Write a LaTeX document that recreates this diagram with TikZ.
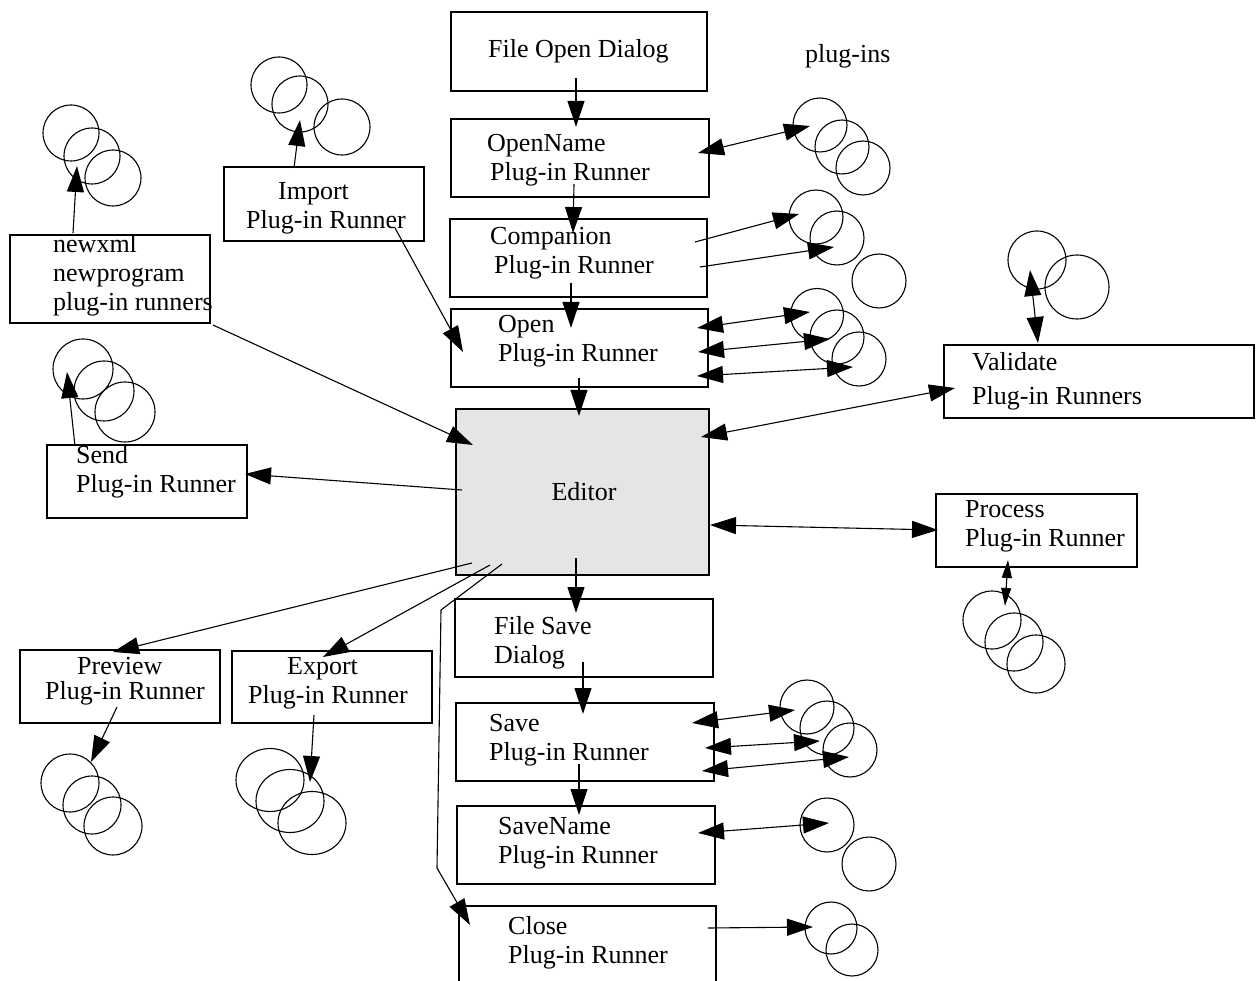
\documentclass[tikz,border=0pt]{standalone}
\usepackage{fontspec}
\setmainfont{Liberation Serif}
\usetikzlibrary{arrows.meta,shapes.geometric}
\begin{document}
\begin{tikzpicture}[x=1pt,y=-1pt,
  box/.style={draw, line width=1.8pt, rectangle, inner sep=0pt, outer sep=0pt, anchor=north west},
  txt/.style={inner sep=0pt, align=left, anchor=west, font=\fontsize{26}{29}\selectfont},
  plug/.style={draw, circle, line width=1.1pt, inner sep=0pt, outer sep=0pt},
  plugE/.style={draw, ellipse, line width=1.1pt, inner sep=0pt, outer sep=0pt, minimum width=68pt, minimum height=63pt},
  arr/.style={line width=1.1pt, -{Triangle[length=26pt,width=17pt]}},
  dbl/.style={line width=1.1pt, {Triangle[length=26pt,width=17pt]}-{Triangle[length=26pt,width=17pt]}},
  sdbl/.style={line width=1.1pt, {Triangle[length=18pt,width=10pt]}-{Triangle[length=18pt,width=10pt]}}
]
\useasboundingbox (0,0) rectangle (1256,981);
\clip (0,0) rectangle (1256,981);

% ---------- boxes ----------
\node[box, minimum width=256pt, minimum height=79pt] (fod) at (451,12) {};
\node[box, minimum width=258pt, minimum height=78pt] (oname) at (451,119) {};
\node[box, minimum width=257pt, minimum height=78pt] (comp) at (450,219) {};
\node[box, minimum width=257pt, minimum height=78pt] (open) at (451,309) {};
\node[box, line width=1.4pt, fill=black!10, minimum width=253pt, minimum height=166pt] (editor) at (456,409) {};
\node[box, minimum width=258pt, minimum height=78pt] (fsd) at (455,599) {};
\node[box, minimum width=258pt, minimum height=78pt] (save) at (456,703) {};
\node[box, minimum width=258pt, minimum height=78pt] (sname) at (457,806) {};
\node[box, minimum width=257pt, minimum height=110pt] (close) at (459,906) {};
\node[box, minimum width=200pt, minimum height=74pt] (import) at (224,167) {};
\node[box, minimum width=200pt, minimum height=88pt] (newxml) at (10,235) {};
\node[box, minimum width=200pt, minimum height=73pt] (send) at (47,445) {};
\node[box, minimum width=200pt, minimum height=73pt] (preview) at (20,650) {};
\node[box, minimum width=200pt, minimum height=72pt] (export) at (232,651) {};
\node[box, minimum width=310pt, minimum height=73pt] (validate) at (944,345) {};
\node[box, minimum width=201pt, minimum height=73pt] (process) at (936,494) {};

% ---------- texts ----------
\node[txt] (fod-t) at (488,51) {File Open Dialog};
\node[txt] (oname-t) at (487,160) {OpenName\\\hspace*{3pt}Plug-in Runner};
\node[txt] (comp-t) at (490,253) {Companion\\\hspace*{4pt}Plug-in Runner};
\node[txt] (open-t) at (498,341) {Open\\Plug-in Runner};
\node[txt, anchor=center] (editor-t) at (584,492) {Editor};
\node[txt] (fsd-t) at (494,643) {File Save\\Dialog};
\node[txt] (save-t) at (489,740) {Save\\Plug-in Runner};
\node[txt] (sname-t) at (498,843) {SaveName\\Plug-in Runner};
\node[txt] (close-t) at (508,943) {Close\\Plug-in Runner};
\node[txt] (import-t) at (246,208) {\hspace*{32pt}Import\\Plug-in Runner};
\node[txt] (newxml-t) at (53,275) {newxml\\newprogram\\plug-in runners};
\node[txt] (send-t) at (76,472) {Send\\Plug-in Runner};
\node[txt] (preview-t) at (45,681) {\hspace*{32pt}Preview\\[-4pt]Plug-in Runner};
\node[txt] (export-t) at (248,683) {\hspace*{39pt}Export\\Plug-in Runner};
\node[txt] (validate-t) at (972,381) {Validate\\[5pt]Plug-in Runners};
\node[txt] (process-t) at (965,526) {Process\\Plug-in Runner};
\node[txt] (plugins) at (805,56) {plug-ins};

% ---------- plug-in circles ----------
\node[plug, minimum size=56pt] (nx1) at (71,133) {};
\node[plug, minimum size=56pt] (nx2) at (92,156) {};
\node[plug, minimum size=56pt] (nx3) at (113,178) {};
\node[plug, minimum size=56pt] (im1) at (279,85) {};
\node[plug, minimum size=56pt] (im2) at (300,104) {};
\node[plug, minimum size=56pt] (im3) at (342,127) {};
\node[plug, minimum size=60pt] (se1) at (83,369) {};
\node[plug, minimum size=60pt] (se2) at (104,391) {};
\node[plug, minimum size=60pt] (se3) at (125,412) {};
\node[plug, minimum size=58pt] (pv1) at (70,783) {};
\node[plug, minimum size=58pt] (pv2) at (92,805) {};
\node[plug, minimum size=58pt] (pv3) at (113,826) {};
\node[plugE] (ex1) at (270,780) {};
\node[plugE] (ex2) at (290,801) {};
\node[plugE] (ex3) at (312,823) {};
\node[plug, minimum size=54pt] (on1) at (820,125) {};
\node[plug, minimum size=54pt] (on2) at (842,147) {};
\node[plug, minimum size=54pt] (on3) at (863,168) {};
\node[plug, minimum size=54pt] (co1) at (816,217) {};
\node[plug, minimum size=54pt] (co2) at (837,238) {};
\node[plug, minimum size=54pt] (co3) at (879,281) {};
\node[plug, minimum size=53pt] (op1) at (817,315) {};
\node[plug, minimum size=54pt] (op2) at (837,337) {};
\node[plug, minimum size=54pt] (op3) at (859,359) {};
\node[plug, minimum size=58pt] (va1) at (1037,260) {};
\node[plug, minimum size=64pt] (va2) at (1077,287) {};
\node[plug, minimum size=58pt] (pr1) at (992,620) {};
\node[plug, minimum size=58pt] (pr2) at (1014,642) {};
\node[plug, minimum size=58pt] (pr3) at (1036,664) {};
\node[plug, minimum size=54pt] (sa1) at (807,707) {};
\node[plug, minimum size=54pt] (sa2) at (827,728) {};
\node[plug, minimum size=54pt] (sa3) at (850,750) {};
\node[plug, minimum size=54pt] (sn1) at (827,825) {};
\node[plug, minimum size=54pt] (sn2) at (869,864) {};
\node[plug, minimum size=52pt] (cl1) at (831,928) {};
\node[plug, minimum size=52pt] (cl2) at (852,950) {};

% ---------- main chain ----------
\draw[arr] ([shift={(125,66)}]fod.north west) -- ([shift={(125,8)}]oname.north west);
\draw[arr] ([shift={(123,65)}]oname.north west) -- ([shift={(123,14)}]comp.north west);
\draw[arr] ([shift={(121,64)}]comp.north west) -- ([shift={(120,19)}]open.north west);
\draw[arr] ([shift={(128,69)}]open.north west) -- ([shift={(123,7)}]editor.north west);
\draw[arr] ([shift={(120,149)}]editor.north west) -- ([shift={(121,14)}]fsd.north west);
\draw[arr] ([shift={(128,63)}]fsd.north west) -- ([shift={(127,11)}]save.north west);
\draw[arr] ([shift={(123,61)}]save.north west) -- ([shift={(122,9)}]sname.north west);
\draw[arr] ([shift={(46,155)}]editor.north west) -- (441,610) -- (437,868) -- ([shift={(11,19)}]close.north west);

% ---------- editor fan ----------
\draw[arr] ([shift={(16,154)}]editor.north west) -- ([shift={(93,2)}]preview.north west);
\draw[arr] ([shift={(34,156)}]editor.north west) -- ([shift={(91,6)}]export.north west);
\draw[arr] ([shift={(6,81)}]editor.north west) -- ([shift={(198,29)}]send.north west);
\draw[arr] ([shift={(203,90)}]newxml.north west) -- ([shift={(17,36)}]editor.north west);
\draw[arr] ([shift={(171,61)}]import.north west) -- ([shift={(12,43)}]open.north west);
\draw[dbl] ([shift={(245,28)}]editor.north west) -- ([shift={(11,43)}]validate.north west);
\draw[dbl] ([shift={(254,116)}]editor.north west) -- ([shift={(2,36)}]process.north west);

% ---------- runners to plug-ins ----------
\draw[arr] ([shift={(70,1)}]import.north west) -- ([shift={(0,16)}]im2.center);
\draw[arr] ([shift={(63,-2)}]newxml.north west) -- ([shift={(-15,10)}]nx2.center);
\draw[arr] ([shift={(28,1)}]send.north west) -- ([shift={(-16,3)}]se1.center);
\draw[arr] ([shift={(97,57)}]preview.north west) -- ([shift={(21,-21)}]pv1.center);
\draw[arr] ([shift={(82,64)}]export.north west) -- ([shift={(20,-19)}]ex2.center);
\draw[dbl] ([shift={(247,34)}]oname.north west) -- ([shift={(-10,1)}]on1.center);
\draw[arr] ([shift={(245,23)}]comp.north west) -- ([shift={(-17,-3)}]co1.center);
\draw[arr] ([shift={(250,48)}]comp.north west) -- ([shift={(-3,9)}]co2.center);
\draw[dbl] ([shift={(246,19)}]open.north west) -- ([shift={(-7,-3)}]op1.center);
\draw[dbl] ([shift={(247,43)}]open.north west) -- ([shift={(-7,2)}]op2.center);
\draw[dbl] ([shift={(246,67)}]open.north west) -- ([shift={(-6,8)}]op3.center);
\draw[dbl] ([shift={(94,-2)}]validate.north west) -- ([shift={(-7,10)}]va1.center);
\draw[sdbl] ([shift={(72,66)}]process.north west) -- ([shift={(13,-14)}]pr1.center);
\draw[dbl] ([shift={(236,20)}]save.north west) -- ([shift={(-12,3)}]sa1.center);
\draw[dbl] ([shift={(249,45)}]save.north west) -- ([shift={(-7,13)}]sa2.center);
\draw[dbl] ([shift={(246,68)}]save.north west) -- ([shift={(-1,7)}]sa3.center);
\draw[dbl] ([shift={(241,27)}]sname.north west) -- ([shift={(2,-2)}]sn1.center);
\draw[arr] ([shift={(249,22)}]close.north west) -- ([shift={(-18,-1)}]cl1.center);
\end{tikzpicture}
\end{document}
